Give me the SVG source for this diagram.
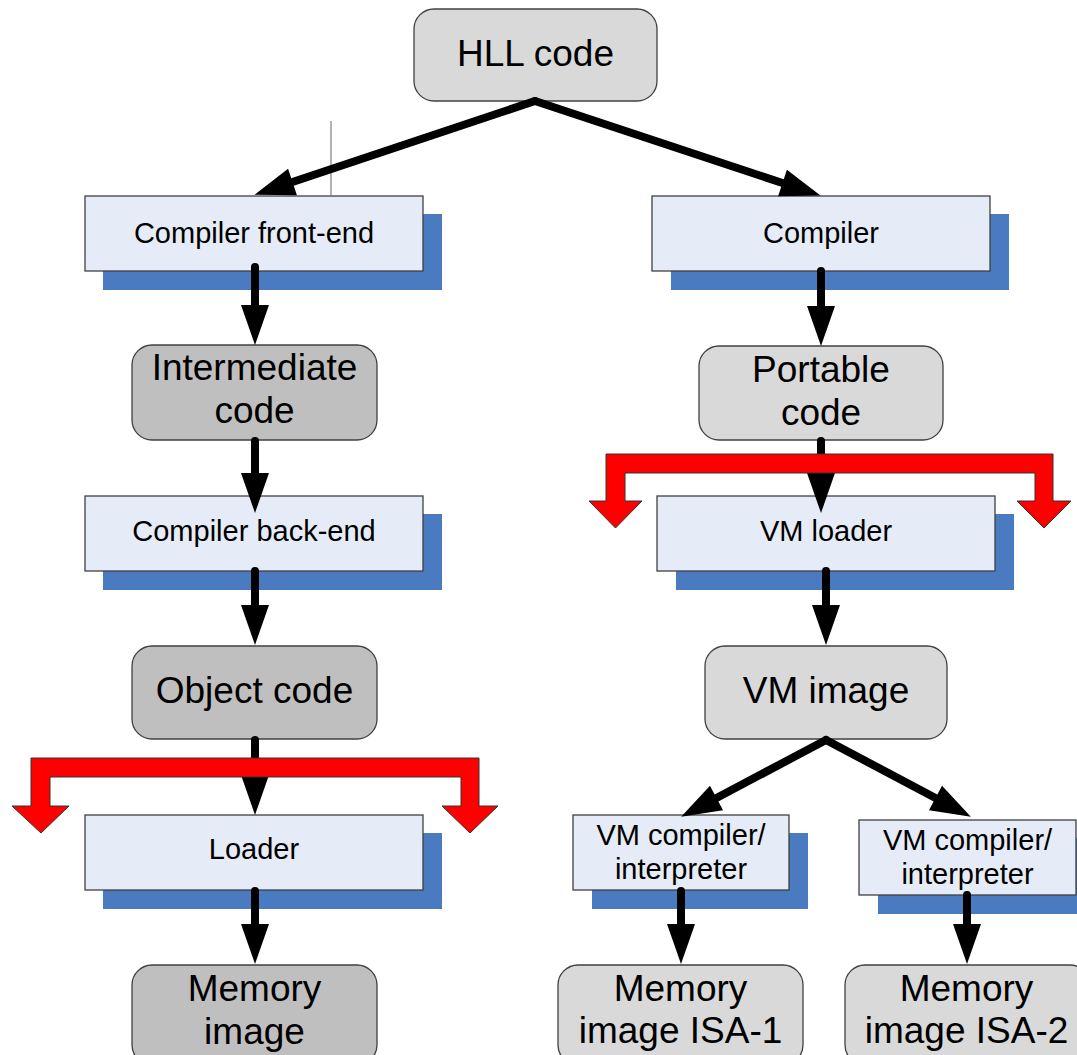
<svg xmlns="http://www.w3.org/2000/svg" width="1077" height="1055" viewBox="0 0 1077 1055">
<style>
text{font-family:"Liberation Sans",Arial,sans-serif;fill:#000;text-anchor:middle}
.big{font-size:37px}
.sm{font-size:29px}
.rg{fill:#d9d9d9;stroke:#404040;stroke-width:1.3}
.rd{fill:#bfbfbf;stroke:#404040;stroke-width:1.3}
.bx{fill:#e6ecf7;stroke:#404040;stroke-width:1.3}
.sh{fill:#4a7abf}
.c{stroke:#000;stroke-width:8;stroke-linecap:round;fill:none;marker-end:url(#ah)}
.fork{fill:#ff0000;stroke:#333;stroke-width:1}
</style>
<defs>
<marker id="ah" markerUnits="userSpaceOnUse" markerWidth="42" markerHeight="30" viewBox="0 -15 42 30" refX="0" refY="0" orient="auto" overflow="visible">
<path d="M0,-14 L40,0 L0,14 Z" fill="#000"/>
</marker>
</defs>
<rect width="1077" height="1055" fill="#fff"/>

<g id="n-hll"><rect class="rg" x="414" y="9" width="243" height="92" rx="20"/><text class="big" x="535.5" y="66">HLL code</text></g>

<g id="n-frontend"><rect class="sh" x="103" y="214" width="339" height="76"/><rect class="bx" x="85" y="196" width="338" height="75"/><text class="sm" x="254" y="243">Compiler front-end</text></g>
<g id="n-intermediate"><rect class="rd" x="132" y="345" width="245" height="95" rx="20"/><text class="big" x="254.5" y="380">Intermediate</text><text class="big" x="254.5" y="423">code</text></g>
<g id="n-backend"><rect class="sh" x="103" y="514" width="339" height="76"/><rect class="bx" x="85" y="496" width="338" height="75"/><text class="sm" x="254" y="541">Compiler back-end</text></g>
<g id="n-object"><rect class="rd" x="132" y="646" width="245" height="93" rx="20"/><text class="big" x="254.5" y="703">Object code</text></g>
<g id="n-loader"><rect class="sh" x="103" y="833" width="339" height="76"/><rect class="bx" x="85" y="815" width="338" height="75"/><text class="sm" x="254" y="859">Loader</text></g>
<g id="n-memimg"><rect class="rd" x="132" y="965" width="245" height="100" rx="20"/><text class="big" x="254.5" y="1001">Memory</text><text class="big" x="254.5" y="1044">image</text></g>

<g id="n-compiler"><rect class="sh" x="671" y="214" width="338" height="76"/><rect class="bx" x="652" y="196" width="338" height="75"/><text class="sm" x="821" y="243">Compiler</text></g>
<g id="n-portable"><rect class="rg" x="699" y="346" width="244" height="94" rx="20"/><text class="big" x="821" y="382">Portable</text><text class="big" x="821" y="425">code</text></g>
<g id="n-vmloader"><rect class="sh" x="676" y="514" width="338" height="76"/><rect class="bx" x="657" y="496" width="338" height="75"/><text class="sm" x="826" y="541">VM loader</text></g>
<g id="n-vmimage"><rect class="rg" x="705" y="646" width="242" height="93" rx="20"/><text class="big" x="826" y="703">VM image</text></g>
<g id="n-vmc1"><rect class="sh" x="592" y="833" width="216" height="76"/><rect class="bx" x="573" y="815" width="216" height="75"/><text class="sm" x="681" y="845">VM compiler/</text><text class="sm" x="681" y="879">interpreter</text></g>
<g id="n-vmc2"><rect class="sh" x="878" y="838" width="216" height="76"/><rect class="bx" x="859" y="820" width="217" height="75"/><text class="sm" x="967.5" y="850">VM compiler/</text><text class="sm" x="967.5" y="884">interpreter</text></g>
<g id="n-isa1"><rect class="rg" x="558" y="965" width="245" height="100" rx="20"/><text class="big" x="680.5" y="1001">Memory</text><text class="big" x="680.5" y="1043">image ISA-1</text></g>
<g id="n-isa2"><rect class="rg" x="845" y="965" width="245" height="100" rx="20"/><text class="big" x="966.5" y="1001">Memory</text><text class="big" x="966.5" y="1043">image ISA-2</text></g>

<g id="connectors">
<line x1="331" y1="121" x2="331" y2="196" stroke="#808080" stroke-width="1.2"/>
<line class="c" x1="535" y1="101" x2="292.5" y2="182"/>
<line class="c" x1="535" y1="101" x2="782.5" y2="183"/>
<line class="c" x1="255" y1="267" x2="255" y2="305"/>
<line class="c" x1="255" y1="441" x2="255" y2="473"/>
<line class="c" x1="255" y1="571" x2="255" y2="605"/>
<line class="c" x1="255" y1="740" x2="255" y2="775"/>
<line class="c" x1="255" y1="891" x2="255" y2="924"/>
<line class="c" x1="821" y1="271" x2="821" y2="306"/>
<line class="c" x1="821" y1="441" x2="821" y2="473"/>
<line class="c" x1="826" y1="571" x2="826" y2="605"/>
<line class="c" x1="826" y1="740" x2="716.5" y2="798"/>
<line class="c" x1="826" y1="740" x2="935.5" y2="798"/>
<line class="c" x1="681" y1="891" x2="681" y2="924"/>
<line class="c" x1="967" y1="895" x2="967" y2="924"/>
<path class="fork" d="M31,758 L479,758 L479,806 L498,806 L470,833 L442,806 L461,806 L461,777 L50,777 L50,806 L69,806 L41,833 L12,806 L31,806 Z"/>
<path class="fork" d="M606,454 L1053,454 L1053,501 L1071,501 L1044,528 L1017,501 L1035,501 L1035,473 L625,473 L625,501 L642,501 L615.5,528 L589,501 L606,501 Z"/>
</g>
</svg>
